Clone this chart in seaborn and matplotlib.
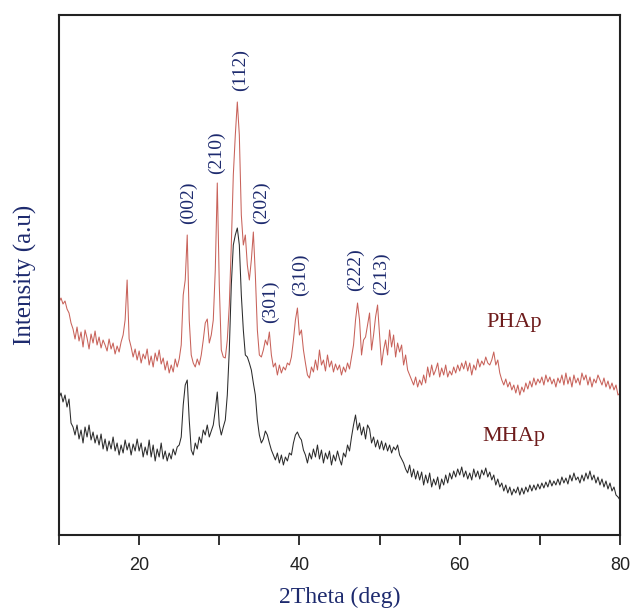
import numpy as np
import pandas as pd
import seaborn as sns
import matplotlib.pyplot as plt

# 2theta grid, 0.25 deg steps from 10 to 80
two_theta = 10 + 0.25 * np.arange(281)

# PHAp intensity (a.u.), one row per 5 deg
phap = [
    233, 237, 231, 234, 226, 222, 212, 206, 196, 208, 194, 203, 188, 205, 197, 186, 201, 192, 204, 190,
    198, 187, 195, 190, 184, 196, 186, 192, 181, 189, 183, 193, 200, 215, 255, 196, 188, 178, 186, 175,
    184, 172, 181, 176, 186, 170, 179, 168, 182, 174, 185, 171, 177, 165, 174, 162, 170, 163, 176, 168,
    176, 190, 240, 255, 300, 215, 180, 172, 168, 176, 170, 180, 195, 212, 216, 192, 200, 215, 265, 352,
    250, 185, 178, 177, 195, 230, 290, 360, 400, 433, 400, 320, 290, 300, 270, 255, 275, 303, 260, 205,
    180, 178, 185, 195, 190, 203, 180, 168, 172, 160, 170, 162, 168, 165, 172, 170, 178, 195, 215, 227,
    200, 205, 185, 172, 160, 157, 168, 163, 175, 165, 185, 170, 175, 164, 180, 168, 174, 163, 171, 165,
    170, 160, 168, 163, 172, 166, 178, 190, 215, 232, 215, 180, 195, 198, 210, 222, 185, 200, 218, 230,
    200, 170, 185, 195, 180, 205, 188, 200, 178, 192, 183, 190, 170, 180, 165, 160, 155, 150, 158, 148,
    155, 150, 160, 152, 168, 158, 170, 160, 165, 172, 158, 167, 160, 170, 158, 164, 160, 168, 162, 170,
    164, 172, 166, 174, 164, 172, 160, 170, 165, 176, 168, 174, 170, 178, 172, 170, 175, 183, 170, 175,
    162, 155, 150, 156, 148, 153, 145, 150, 142, 150, 140, 148, 143, 152, 146, 154, 148, 157, 150, 156,
    152, 158, 150, 160, 153, 158, 151, 156, 148, 157, 152, 160, 150, 162, 151, 158, 148, 160, 152, 157,
    150, 162, 155, 160, 150, 158, 148, 156, 152, 160, 155, 150, 157, 148, 154, 146, 152, 145, 150, 140, 142,
]

# MHAp intensity (a.u.)
mhap = [
    137, 142, 133, 140, 128, 136, 112, 108, 100, 110, 96, 105, 92, 108, 98, 110, 95, 103, 92, 100,
    90, 101, 86, 96, 84, 94, 86, 98, 84, 92, 80, 90, 82, 95, 85, 92, 80, 91, 84, 96,
    84, 92, 78, 88, 80, 95, 78, 90, 74, 86, 78, 92, 76, 84, 74, 82, 76, 86, 80, 88,
    90, 98, 130, 150, 155, 115, 85, 80, 92, 86, 98, 92, 105, 100, 110, 98, 104, 110, 125, 143,
    110, 100, 108, 115, 140, 185, 250, 290, 300, 307, 290, 240, 205, 180, 178, 172, 165, 152, 140, 115,
    100, 92, 96, 104, 100, 92, 85, 80, 75, 82, 72, 80, 70, 78, 74, 82, 80, 92, 100, 103,
    98, 95, 85, 80, 72, 82, 76, 86, 78, 90, 76, 85, 72, 82, 76, 84, 70, 80, 74, 84,
    76, 70, 82, 78, 90, 84, 98, 110, 120, 105, 112, 100, 108, 96, 110, 106, 92, 98, 88, 95,
    86, 94, 85, 92, 84, 90, 82, 88, 85, 90, 80, 76, 72, 66, 62, 70, 58, 66, 56, 64,
    55, 63, 50, 60, 52, 62, 48, 56, 50, 58, 46, 56, 50, 60, 52, 62, 56, 64, 58, 66,
    60, 68, 58, 64, 56, 62, 55, 66, 58, 64, 56, 65, 60, 67, 58, 63, 55, 60, 50, 56,
    48, 52, 44, 50, 42, 48, 40, 46, 42, 48, 40, 47, 41, 48, 43, 50, 44, 50, 45, 51,
    46, 52, 47, 53, 48, 55, 49, 54, 50, 56, 50, 58, 52, 57, 51, 60, 54, 62, 55, 58,
    52, 60, 54, 62, 56, 64, 55, 60, 52, 58, 50, 56, 48, 54, 46, 52, 44, 48, 40, 38, 35,
]

# peak indices and where their labels sit
hkl_labels = ["(002)", "(210)", "(112)", "(202)", "(301)", "(310)", "(222)", "(213)"]
hkl_x = [26.1, 29.6, 32.6, 35.25, 36.4, 40.1, 47.0, 50.25]
hkl_y = [332, 382, 465, 332, 233, 260, 265, 261]

df = pd.DataFrame({
    "2theta": np.concatenate([two_theta, two_theta]),
    "intensity": np.concatenate([phap, mhap]),
    "sample": ["PHAp"] * len(phap) + ["MHAp"] * len(mhap),
})

sns.set_style("ticks")
fig = plt.figure(figsize=(6.31, 6.14), dpi=100)
ax = fig.add_axes([59 / 631, 79 / 614, 561 / 631, 520 / 614])

sns.lineplot(data=df, x="2theta", y="intensity", hue="sample",
             palette={"PHAp": "#c8625a", "MHAp": "#2b2b2b"},
             estimator=None, linewidth=0.75, legend=False, ax=ax)

navy = "#1d2a6e"
for lab, x, y in zip(hkl_labels, hkl_x, hkl_y):
    ax.text(x, y, lab, rotation=90, ha="center", va="center",
            family="Liberation Serif", fontsize=14, color=navy)

ax.text(66.75, 213, "PHAp", ha="center", va="center",
        family="Liberation Serif", fontsize=16, color="#6e1c1c")
ax.text(66.75, 98, "MHAp", ha="center", va="center",
        family="Liberation Serif", fontsize=16, color="#6e1c1c")

ax.set_xlim(10, 80)
ax.set_ylim(0, 520)
ax.set_xticks(range(10, 81, 10))
ax.set_xticklabels(["", "20", "", "40", "", "60", "", "80"],
                   family="Liberation Sans", fontsize=13)
ax.set_yticks([])
ax.tick_params(axis="x", direction="out", length=7, width=1.3, pad=9,
               colors="#222222")
for s in ax.spines.values():
    s.set_visible(True)
    s.set_linewidth(1.5)
    s.set_color("#222222")

ax.set_xlabel("2Theta (deg)", family="Liberation Serif", fontsize=17,
              color=navy, labelpad=9)
ax.set_ylabel("Intensity (a.u)", family="Liberation Serif", fontsize=18,
              color=navy, labelpad=16)

fig.savefig("out.png", dpi=100)
